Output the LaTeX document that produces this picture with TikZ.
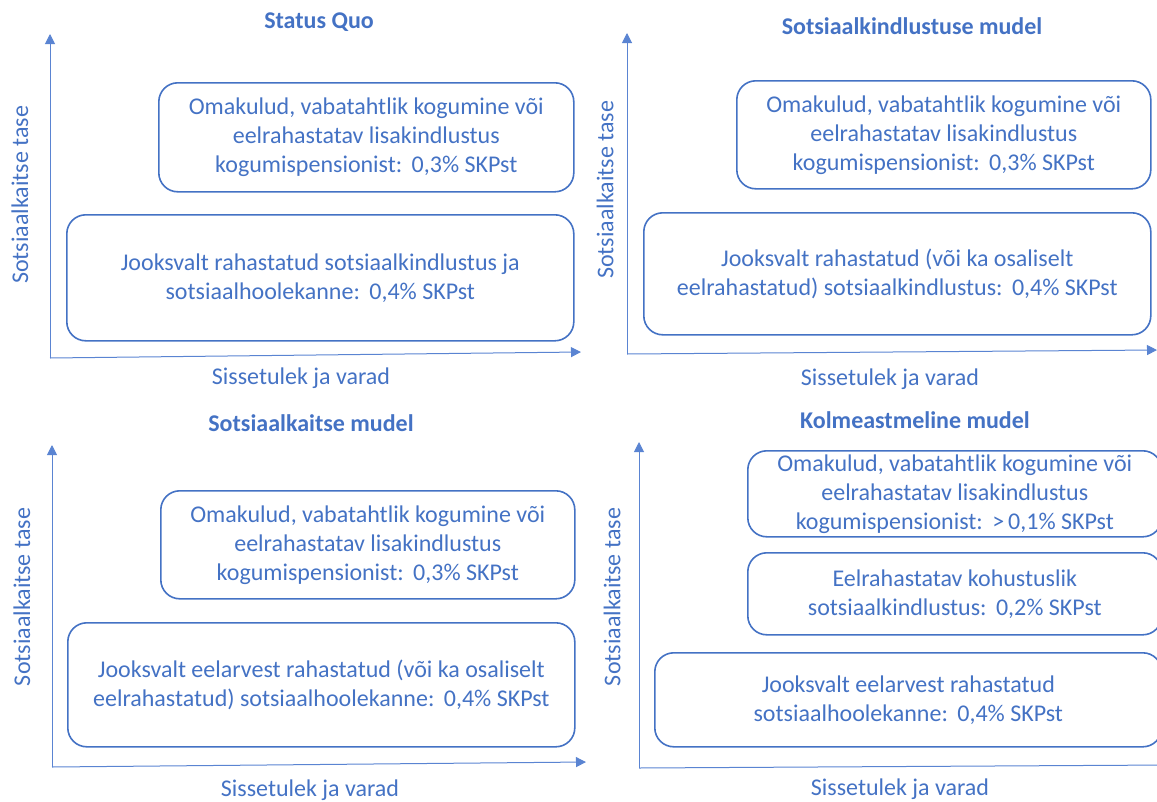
\documentclass[tikz,border=0pt]{standalone}
\usepackage{fontspec}
\setmainfont{Carlito}
\usetikzlibrary{arrows.meta}
\definecolor{blu}{HTML}{4472C4}
\definecolor{axc}{HTML}{5A84D2}
\begin{document}
\begin{tikzpicture}[x=1pt,y=-1pt,
  bx/.style={draw=blu,line width=1.6pt,rounded corners=19pt,anchor=north west,inner sep=0pt,align=center,text=blu,font=\fontsize{24}{29}\selectfont},
  ttl/.style={text=blu,font=\fontsize{24}{29}\selectfont\bfseries},
  lbl/.style={text=blu,font=\fontsize{24}{29}\selectfont},
  ax/.style={draw=axc,line width=1pt,-{Triangle[length=10pt,width=10pt]}}]
\useasboundingbox (0,0) rectangle (1157,801);
% ---------- Panel 1
\node[ttl] (t1) at (319,22) {Status Quo};
\coordinate (o1) at (50,358);
\coordinate (y1) at (50,34);
\coordinate (x1) at (581,352);
\draw[ax] (o1) -- (y1);
\draw[ax] (o1) -- (x1);
\node[bx,minimum width=415pt,minimum height=109pt] (a1) at (158,82) {Omakulud, vabatahtlik kogumine või\\eelrahastatav lisakindlustus\\kogumispensionist:\ \,0,3\% SKPst};
\node[bx,minimum width=507pt,minimum height=126pt] (b1) at (66,214) {Jooksvalt rahastatud sotsiaalkindlustus ja\\sotsiaalhoolekanne:\ \,0,4\% SKPst};
\node[lbl,rotate=90] (yl1) at (20,195) {Sotsiaalkaitse tase};
\node[lbl] (xl1) at (301,378) {Sissetulek ja varad};
% ---------- Panel 2
\node[ttl] (t2) at (912,26) {Sotsiaalkindlustuse mudel};
\coordinate (o2) at (627,354);
\coordinate (y2) at (627,33);
\coordinate (x2) at (1157,350);
\draw[ax] (o2) -- (y2);
\draw[ax] (o2) -- (x2);
\node[bx,minimum width=414pt,minimum height=108pt] (a2) at (736,80) {Omakulud, vabatahtlik kogumine või\\eelrahastatav lisakindlustus\\kogumispensionist:\ \,0,3\% SKPst};
\node[bx,minimum width=507pt,minimum height=122pt] (b2) at (643,212) {Jooksvalt rahastatud (või ka osaliselt\\eelrahastatud) sotsiaalkindlustus:\ \,0,4\% SKPst};
\node[lbl,rotate=90] (yl2) at (605,190) {Sotsiaalkaitse tase};
\node[lbl] (xl2) at (890,379) {Sissetulek ja varad};
% ---------- Panel 3
\node[ttl] (t3) at (311,423) {Sotsiaalkaitse mudel};
\coordinate (o3) at (52,767);
\coordinate (y3) at (52,445);
\coordinate (x3) at (586,762);
\draw[ax] (o3) -- (y3);
\draw[ax] (o3) -- (x3);
\node[bx,minimum width=414pt,minimum height=108pt] (a3) at (160,490) {Omakulud, vabatahtlik kogumine või\\eelrahastatav lisakindlustus\\kogumispensionist:\ \,0,3\% SKPst};
\node[bx,minimum width=507pt,minimum height=124pt] (b3) at (67,622) {Jooksvalt eelarvest rahastatud (või ka osaliselt\\eelrahastatud) sotsiaalhoolekanne:\ \,0,4\% SKPst};
\node[lbl,rotate=90] (yl3) at (22,597) {Sotsiaalkaitse tase};
\node[lbl] (xl3) at (310,790) {Sissetulek ja varad};
% ---------- Panel 4
\node[ttl] (t4) at (915,420) {Kolmeastmeline mudel};
\coordinate (o4) at (639,768);
\coordinate (y4) at (639,442);
\coordinate (x4) at (1170,765);
\draw[ax] (o4) -- (y4);
\draw[ax] (o4) -- (x4);
\node[bx,minimum width=414pt,minimum height=86pt] (a4) at (747,450) {Omakulud, vabatahtlik kogumine või\\eelrahastatav lisakindlustus\\kogumispensionist:\ \,>\,0,1\% SKPst};
\node[bx,minimum width=414pt,minimum height=82pt] (c4) at (747,552) {Eelrahastatav kohustuslik\\sotsiaalkindlustus:\ \,0,2\% SKPst};
\node[bx,minimum width=507pt,minimum height=94pt] (b4) at (654,652) {Jooksvalt eelarvest rahastatud\\sotsiaalhoolekanne:\ \,0,4\% SKPst};
\node[lbl,rotate=90] (yl4) at (612,597) {Sotsiaalkaitse tase};
\node[lbl] (xl4) at (900,789) {Sissetulek ja varad};
\end{tikzpicture}
\end{document}
